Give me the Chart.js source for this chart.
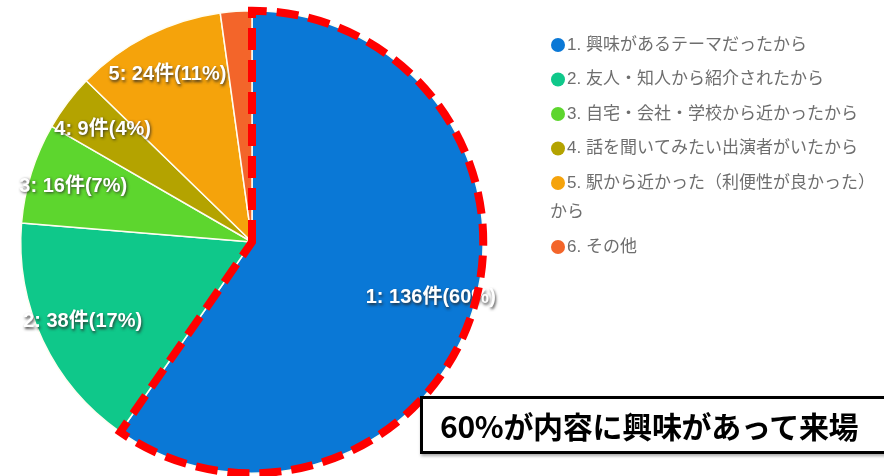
<!DOCTYPE html>
<html>
<head>
<meta charset="utf-8">
<script src="https://cdn.jsdelivr.net/npm/chart.js@4/dist/chart.umd.min.js"></script>
<style>
  html, body { margin: 0; padding: 0; background: #ffffff; }
  #wrap { position: relative; width: 884px; height: 476px; overflow: hidden; }
  #c { position: absolute; left: 0; top: 0; }
  #callout {
    position: absolute; left: 420px; top: 396px; width: 456px; height: 52px;
    border: 3px solid #000; background: #fff; box-shadow: 1px 2px 3px rgba(0,0,0,0.35);
    font-family: "Noto Sans CJK JP", sans-serif; font-weight: bold; font-size: 30px;
    line-height: 52px; padding-left: 17px; box-sizing: content-box; color: #000;
    white-space: nowrap; letter-spacing: -0.3px;
  }
</style>
</head>
<body>
<div id="wrap">
  <canvas id="c" width="884" height="476"></canvas>
  <div id="callout">60%が内容に興味があって来場</div>
</div>
<script>
// ---- data ----
const categories = [
  '1. 興味があるテーマだったから',
  '2. 友人・知人から紹介されたから',
  '3. 自宅・会社・学校から近かったから',
  '4. 話を聞いてみたい出演者がいたから',
  ['5. 駅から近かった（利便性が良かった）', 'から'],
  '6. その他'
];
const counts = [136, 38, 16, 9, 24, 5];
const sliceColors = ['#0a78d6', '#0fc88a', '#5dd62e', '#b4a300', '#f5a30b', '#f3652a'];
const countUnit = '件';
const highlightIndex = 0;

const total = counts.reduce((a, b) => a + b, 0);

const labelPlugin = {
  id: 'sliceLabels',
  afterDatasetsDraw(chart) {
    const ctx = chart.ctx;
    const meta = chart.getDatasetMeta(0);
    const values = chart.data.datasets[0].data;
    ctx.save();
    ctx.font = 'bold 20px "Liberation Sans", "Noto Sans CJK JP", sans-serif';
    ctx.textAlign = 'center';
    ctx.textBaseline = 'middle';
    meta.data.forEach((arc, i) => {
      const v = values[i];
      const pct = Math.round(v / total * 100);
      if (v / total < 0.03) return;
      const p = arc.getProps(['x', 'y', 'startAngle', 'endAngle', 'outerRadius'], true);
      const mid = (p.startAngle + p.endAngle) / 2;
      const r = p.outerRadius * 0.81;
      const tx = p.x + Math.cos(mid) * r;
      const ty = p.y + Math.sin(mid) * r;
      const txt = (i + 1) + ': ' + v + countUnit + '(' + pct + '%)';
      ctx.shadowColor = 'rgba(40,40,40,0.85)';
      ctx.shadowBlur = 3;
      ctx.shadowOffsetX = 1;
      ctx.shadowOffsetY = 1.5;
      ctx.fillStyle = '#ffffff';
      ctx.fillText(txt, tx, ty);
    });
    ctx.restore();

    // dashed highlight outline around chosen slice
    const a = meta.data[highlightIndex];
    if (a) {
      const p = a.getProps(['x', 'y', 'startAngle', 'endAngle', 'outerRadius'], true);
      ctx.save();
      ctx.beginPath();
      ctx.moveTo(p.x, p.y);
      ctx.arc(p.x, p.y, p.outerRadius, p.startAngle, p.endAngle);
      ctx.closePath();
      ctx.strokeStyle = '#ff0000';
      ctx.lineWidth = 8;
      ctx.lineJoin = 'miter';
      ctx.setLineDash([22, 10]);
      ctx.stroke();
      ctx.restore();
    }
  }
};

const legendPlugin = {
  id: 'sideLegend',
  afterDraw(chart) {
    const ctx = chart.ctx;
    const labels = chart.data.labels;
    const colors = chart.data.datasets[0].backgroundColor;
    const x0 = 558, lineH = 29.5, gap = 5;
    let y = 45;
    ctx.save();
    ctx.font = '17px "Liberation Sans", "Noto Sans CJK JP", sans-serif';
    ctx.textBaseline = 'middle';
    ctx.textAlign = 'left';
    labels.forEach((lab, i) => {
      const lines = Array.isArray(lab) ? lab : [lab];
      ctx.beginPath();
      ctx.arc(x0, y, 7, 0, Math.PI * 2);
      ctx.fillStyle = colors[i];
      ctx.fill();
      ctx.fillStyle = '#6e6e6e';
      lines.forEach((ln, j) => {
        const lx = j === 0 ? 567 : 550;
        ctx.fillText(ln, lx, y + j * lineH, 884 - lx - 8);
      });
      y += lines.length * lineH + gap;
    });
    ctx.restore();
  }
};

new Chart(document.getElementById('c'), {
  type: 'pie',
  data: {
    labels: categories,
    datasets: [{
      data: counts,
      backgroundColor: sliceColors,
      borderColor: '#fffdf0',
      borderWidth: 1.5
    }]
  },
  options: {
    responsive: false,
    devicePixelRatio: 1,
    animation: false,
    events: [],
    layout: { padding: { left: 20, right: 400, top: 10, bottom: 2 } },
    plugins: {
      legend: { display: false },
      tooltip: { enabled: false },
      title: { display: false }
    }
  },
  plugins: [labelPlugin, legendPlugin]
});
</script>
</body>
</html>
